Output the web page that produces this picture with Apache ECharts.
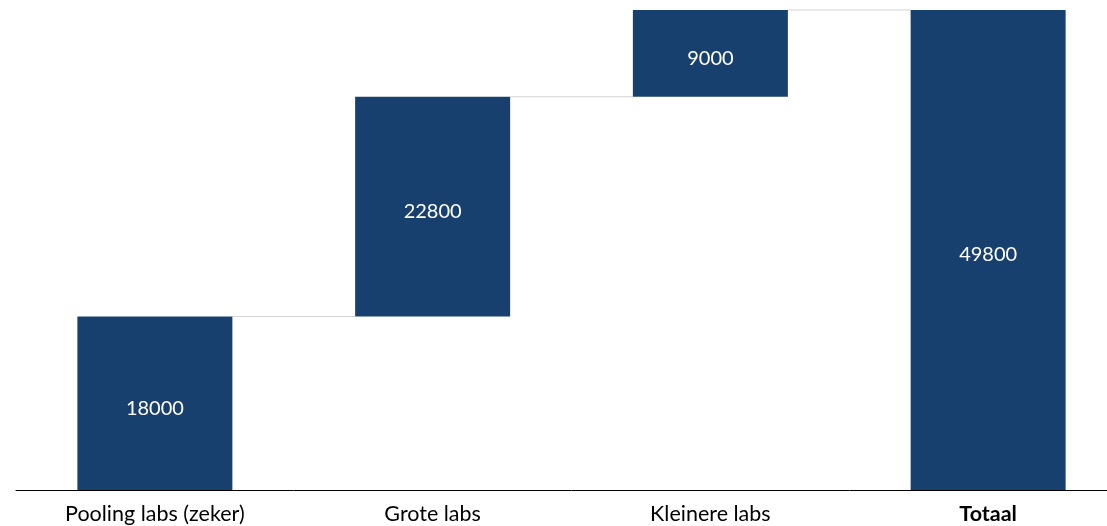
<!DOCTYPE html>
<html>
<head>
<meta charset="utf-8">
<script src="https://cdn.jsdelivr.net/npm/echarts@6/dist/echarts.min.js"></script>
<style>html,body{margin:0;padding:0;background:#fff;overflow:hidden}#c{width:1127px;height:526px}</style>
</head>
<body>
<div id="c"></div>
<script>
var categories = ['Pooling labs (zeker)', 'Grote labs', 'Kleinere labs', 'Totaal'];
var values = [18000, 22800, 9000, 49800];
var isTotal = [false, false, false, true];

var base = [];
var running = 0;
for (var i = 0; i < values.length; i++) {
  if (isTotal[i]) { base.push(0); }
  else { base.push(running); running += values[i]; }
}
var connectors = [];
running = 0;
for (var j = 0; j < values.length - 1; j++) {
  running = isTotal[j] ? values[j] : running + values[j];
  connectors.push([j, running]);
}

var BAR_W = 155;
var chart = echarts.init(document.getElementById('c'));
chart.setOption({
  animation: false,
  grid: { left: 16, right: 0, top: 10, bottom: 36 },
  xAxis: {
    type: 'category', data: categories,
    axisLine: { lineStyle: { color: '#000', width: 1 } },
    axisTick: { show: false },
    axisLabel: {
      color: '#000', fontSize: 21.5, fontFamily: 'Lato', margin: 13,
      formatter: function (v) { return v === 'Totaal' ? '{b|' + v + '}' : v; },
      rich: { b: { fontWeight: 'bold', fontSize: 21.5, fontFamily: 'Lato', color: '#000' } }
    }
  },
  yAxis: { type: 'value', min: 0, max: 49800, show: false, splitLine: { show: false } },
  series: [
    { type: 'bar', stack: 'w', data: base, barWidth: BAR_W, itemStyle: { color: 'transparent' }, silent: true },
    { type: 'bar', stack: 'w', data: values, barWidth: BAR_W,
      itemStyle: { color: '#18406F' },
      label: { show: true, position: 'inside', color: '#fff', fontSize: 20, fontFamily: 'Lato', offset: [0, 5] } },
    { type: 'custom', data: connectors, silent: true, z: 1,
      renderItem: function (params, api) {
        var p = api.coord([api.value(0), api.value(1)]);
        var bw = api.size([1, 0])[0];
        return { type: 'line', shape: { x1: p[0] + BAR_W / 2, y1: p[1], x2: p[0] + bw - BAR_W / 2, y2: p[1] },
          style: { stroke: '#d4d4d4', lineWidth: 1 } };
      } }
  ]
});
</script>
</body>
</html>
